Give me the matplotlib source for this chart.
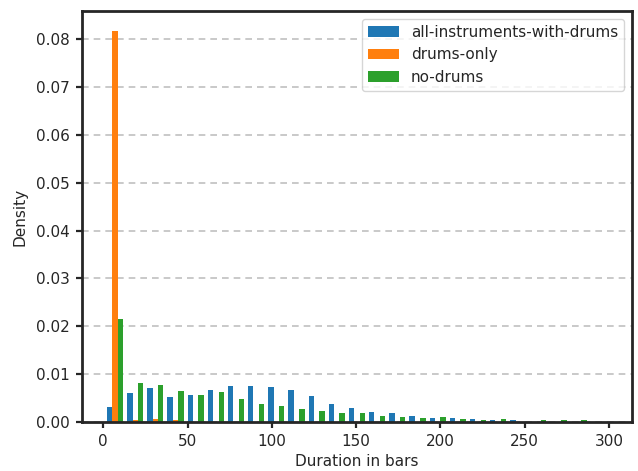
import numpy as np
import matplotlib
matplotlib.use("Agg")
import matplotlib.pyplot as plt

# Bin edges of the duration histogram (bars)
bin_edges = np.linspace(1, 300, 26)

series_names = ["all-instruments-with-drums", "drums-only", "no-drums"]

density_all = [0.0032, 0.0061, 0.0071, 0.0053, 0.0057, 0.0067, 0.0076, 0.0076,
               0.0074, 0.0067, 0.0055, 0.0038, 0.0030, 0.0021, 0.0019, 0.0013,
               0.0009, 0.0009, 0.0007, 0.0005, 0.0004, 0.0, 0.0, 0.0, 0.0]
density_drums = [0.0818, 0.0005, 0.0007, 0.0005, 0.0, 0.0, 0.0, 0.0,
                 0.0, 0.0, 0.0, 0.0, 0.0, 0.0, 0.0, 0.0,
                 0.0, 0.0, 0.0, 0.0, 0.0, 0.0, 0.0, 0.0, 0.0]
density_nodrums = [0.0215, 0.0082, 0.0078, 0.0065, 0.0057, 0.0063, 0.0049, 0.0038,
                   0.0034, 0.0028, 0.0024, 0.0019, 0.0019, 0.0013, 0.0011, 0.0009,
                   0.0011, 0.0007, 0.0005, 0.0007, 0.0, 0.0004, 0.0004, 0.0004, 0.0]

colors = ["#1f77b4", "#ff7f0e", "#2ca02c"]
dark = "#262626"

plt.rcParams["font.family"] = ["DejaVu Sans"]
plt.rcParams["font.size"] = 11

fig = plt.figure(figsize=(6.38, 4.71), dpi=100)
ax = fig.add_axes([0.1285, 0.104, 0.862, 0.8726])

centers = 0.5 * (bin_edges[:-1] + bin_edges[1:])
ax.hist([centers, centers, centers], bins=bin_edges,
        weights=[density_all, density_drums, density_nodrums],
        color=colors, label=series_names)

ax.grid(axis="y", linestyle=(0, (4, 3)), color="#c0c0c0", linewidth=1.2)
ax.set_axisbelow(True)

for sp in ax.spines.values():
    sp.set_linewidth(2.0)
    sp.set_color(dark)

ax.tick_params(axis="both", which="major", length=4.5, width=1.6,
               color=dark, labelcolor=dark, labelsize=11, pad=4)
ax.set_xticks([0, 50, 100, 150, 200, 250, 300])
ax.set_yticks(np.arange(0, 0.081, 0.01))
ax.yaxis.set_major_formatter(matplotlib.ticker.FormatStrFormatter("%.2f"))

ax.set_xlabel("Duration in bars", fontsize=11, color=dark, labelpad=4)
ax.set_ylabel("Density", fontsize=11, color=dark, labelpad=6)

leg = ax.legend(loc="upper right", fontsize=11, framealpha=0.8,
                fancybox=True, borderaxespad=0.5)
leg.get_frame().set_edgecolor("#cccccc")
for t in leg.get_texts():
    t.set_color(dark)

fig.savefig("out.png", dpi=100)
